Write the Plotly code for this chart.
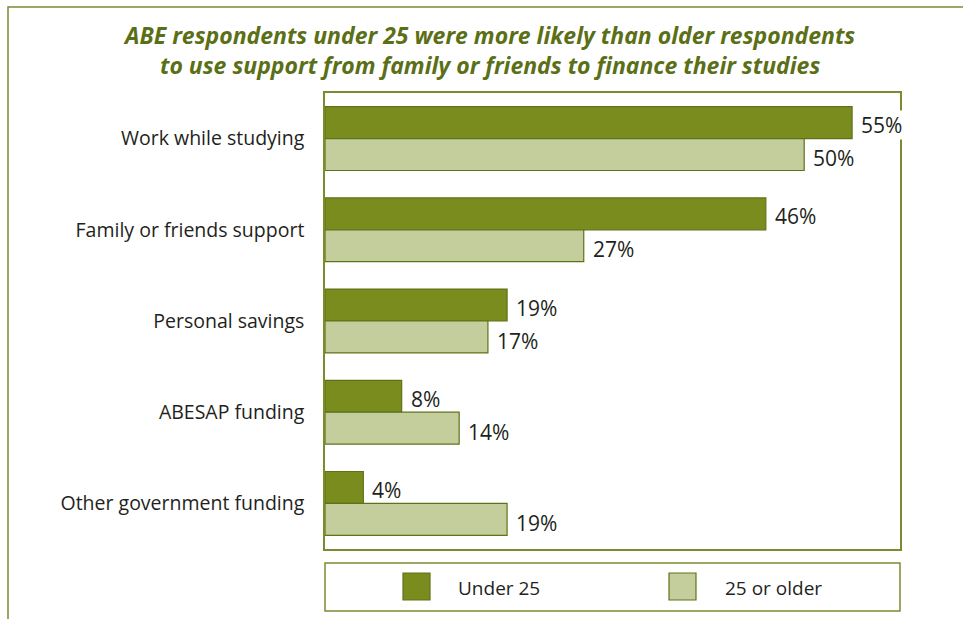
import plotly.graph_objects as go

# Funding sources, top to bottom
categories = [
    "Work while studying",
    "Family or friends support",
    "Personal savings",
    "ABESAP funding",
    "Other government funding",
]
series_names = ["Under 25", "25 or older"]
under_25 = [55, 46, 19, 8, 4]
older_25 = [50, 27, 17, 14, 19]

DARK = "#7a8c1e"
LIGHT = "#c4ce9c"
EDGE = "#5e7318"
FRAME = "#7a8c2e"
TEXT = "#231f20"
TITLE = "#5b6f17"
FONT = "Open Sans, Liberation Sans, sans-serif"
X_MAX = 60

W, H = 963, 619
L, R, T, B = 325, 63, 93, 70
PW, PH = W - L - R, H - T - B


def px(x):
    return (x - L) / PW


def py(y):
    return (H - B - y) / PH


fig = go.Figure()
for name, vals, col in [(series_names[0], under_25, DARK), (series_names[1], older_25, LIGHT)]:
    fig.add_trace(go.Bar(
        y=categories, x=vals, name=name, orientation="h",
        marker=dict(color=col, line=dict(color=EDGE, width=1.2)),
        showlegend=False,
    ))

# value labels next to each bar; a label reaching the frame gets a white patch
for vals, shift in [(under_25, 13.5), (older_25, -19.5)]:
    for c, v in zip(categories, vals):
        bg = "white" if v > X_MAX - 8 else "rgba(0,0,0,0)"
        fig.add_annotation(
            x=v, y=c, text=f"{v}%", xanchor="left", xshift=8, yshift=shift,
            showarrow=False, bgcolor=bg, borderpad=0,
            font=dict(family=FONT, size=21, color=TEXT),
        )

# two-line headline
fig.add_annotation(
    x=px(489), y=py(50), xref="paper", yref="paper", xanchor="center", yanchor="middle",
    text="<b><i>ABE respondents under 25 were more likely than older respondents<br>"
         "to use support from family or friends to finance their studies</i></b>",
    showarrow=False, align="center",
    font=dict(family=FONT, size=23, color=TITLE),
)

shapes = []
# outer frame around the whole panel
shapes.append(dict(type="rect", xref="paper", yref="paper",
                   x0=px(8), y0=py(700), x1=px(1100), y1=py(7),
                   line=dict(color=FRAME, width=1.5), layer="below"))
# legend box
shapes.append(dict(type="rect", xref="paper", yref="paper",
                   x0=px(325), y0=py(611), x1=px(900), y1=py(563),
                   line=dict(color=FRAME, width=1.5)))
for x0, col in [(403, DARK), (669, LIGHT)]:
    shapes.append(dict(type="rect", xref="paper", yref="paper",
                       x0=px(x0), y0=py(600), x1=px(x0 + 27), y1=py(573),
                       fillcolor=col, line=dict(color=EDGE, width=1.2)))
for x0, name in [(456, series_names[0]), (723, series_names[1])]:
    fig.add_annotation(x=px(x0), y=py(588), xref="paper", yref="paper",
                       text=name, xanchor="left", yanchor="middle", showarrow=False,
                       font=dict(family=FONT, size=19, color=TEXT))

fig.update_layout(
    width=W, height=H,
    margin=dict(l=L, r=R, t=T, b=B),
    paper_bgcolor="white", plot_bgcolor="white",
    barmode="group", bargap=0.30, bargroupgap=0.0,
    shapes=shapes,
    xaxis=dict(range=[0, X_MAX], showgrid=False, zeroline=False, showticklabels=False,
               ticks="", showline=True, mirror=True, linecolor=FRAME, linewidth=1.5),
    yaxis=dict(autorange="reversed", showgrid=False, zeroline=False, ticks="",
               ticklabelstandoff=15, showline=True, mirror=True,
               linecolor=FRAME, linewidth=1.5,
               tickfont=dict(family=FONT, size=19.5, color=TEXT)),
)

fig.write_html("out.html")
